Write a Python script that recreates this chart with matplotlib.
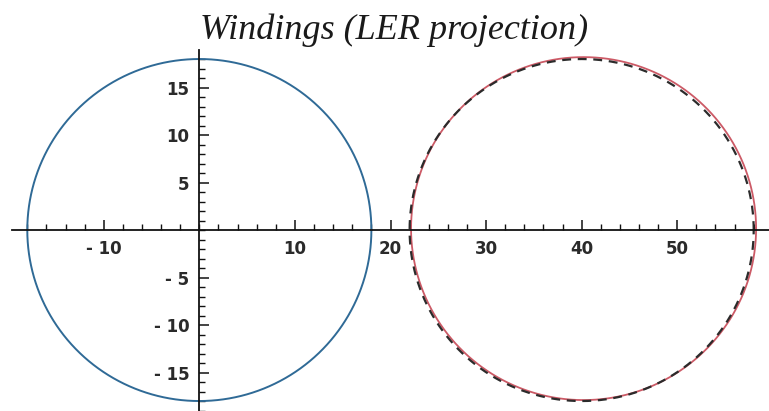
import matplotlib
matplotlib.use("Agg")
import matplotlib.pyplot as plt
import numpy as np

# curves: (center x, center y, radius)
blue_circle = (0.0, 0.0, 18.0)
red_curve = (40.2, 0.15, 18.05)
dashed_circle = (40.0, 0.0, 18.0)

x_ticks = [-10, 10, 20, 30, 40, 50]
x_labels = ["- 10", "10", "20", "30", "40", "50"]
y_ticks = [-15, -10, -5, 5, 10, 15]
y_labels = ["- 15", "- 10", "- 5", "5", "10", "15"]


def ring(c):
    t = np.linspace(0, 2 * np.pi, 721)
    return c[0] + c[2] * np.cos(t), c[1] + c[2] * np.sin(t)


fig = plt.figure(figsize=(7.69, 4.11), dpi=100)
ax = fig.add_axes([12 / 769, 0, 757 / 769, 361 / 411])

ax.plot(*ring(blue_circle), color="#2f6a96", lw=1.4)
ax.plot(*ring(red_curve), color="#cc5a66", lw=1.3)
ax.plot(*ring(dashed_circle), color="#2b2b2b", lw=1.6, dashes=(4, 3))

ax.set_xlim(-19.6, 59.6)
ax.set_ylim(-19.05, 18.95)

for s in ["top", "right"]:
    ax.spines[s].set_visible(False)
for s in ["left", "bottom"]:
    ax.spines[s].set_position(("data", 0))
    ax.spines[s].set_linewidth(1.3)
    ax.spines[s].set_color("#111111")

ax.set_xticks(x_ticks)
ax.set_xticklabels(x_labels)
ax.set_yticks(y_ticks)
ax.set_yticklabels(y_labels)
ax.set_xticks(np.arange(-18, 60, 2), minor=True)
ax.set_yticks(np.arange(-19, 19, 1), minor=True)

ax.tick_params(which="major", direction="in", length=7, width=1.1,
               color="#111111", labelsize=12, pad=7)
ax.tick_params(which="minor", direction="in", length=4, width=1.0,
               color="#111111")
for lab in ax.get_xticklabels() + ax.get_yticklabels():
    lab.set_fontfamily("DejaVu Sans")
    lab.set_fontweight("bold")
    lab.set_color("#2a2a2a")

fig.text(0.513, 0.905, "Windings (LER projection)", ha="center", va="baseline",
         fontsize=26, fontstyle="italic", family="Liberation Serif",
         color="#1a1a1a")

fig.savefig("out.png", dpi=100, facecolor="white")
